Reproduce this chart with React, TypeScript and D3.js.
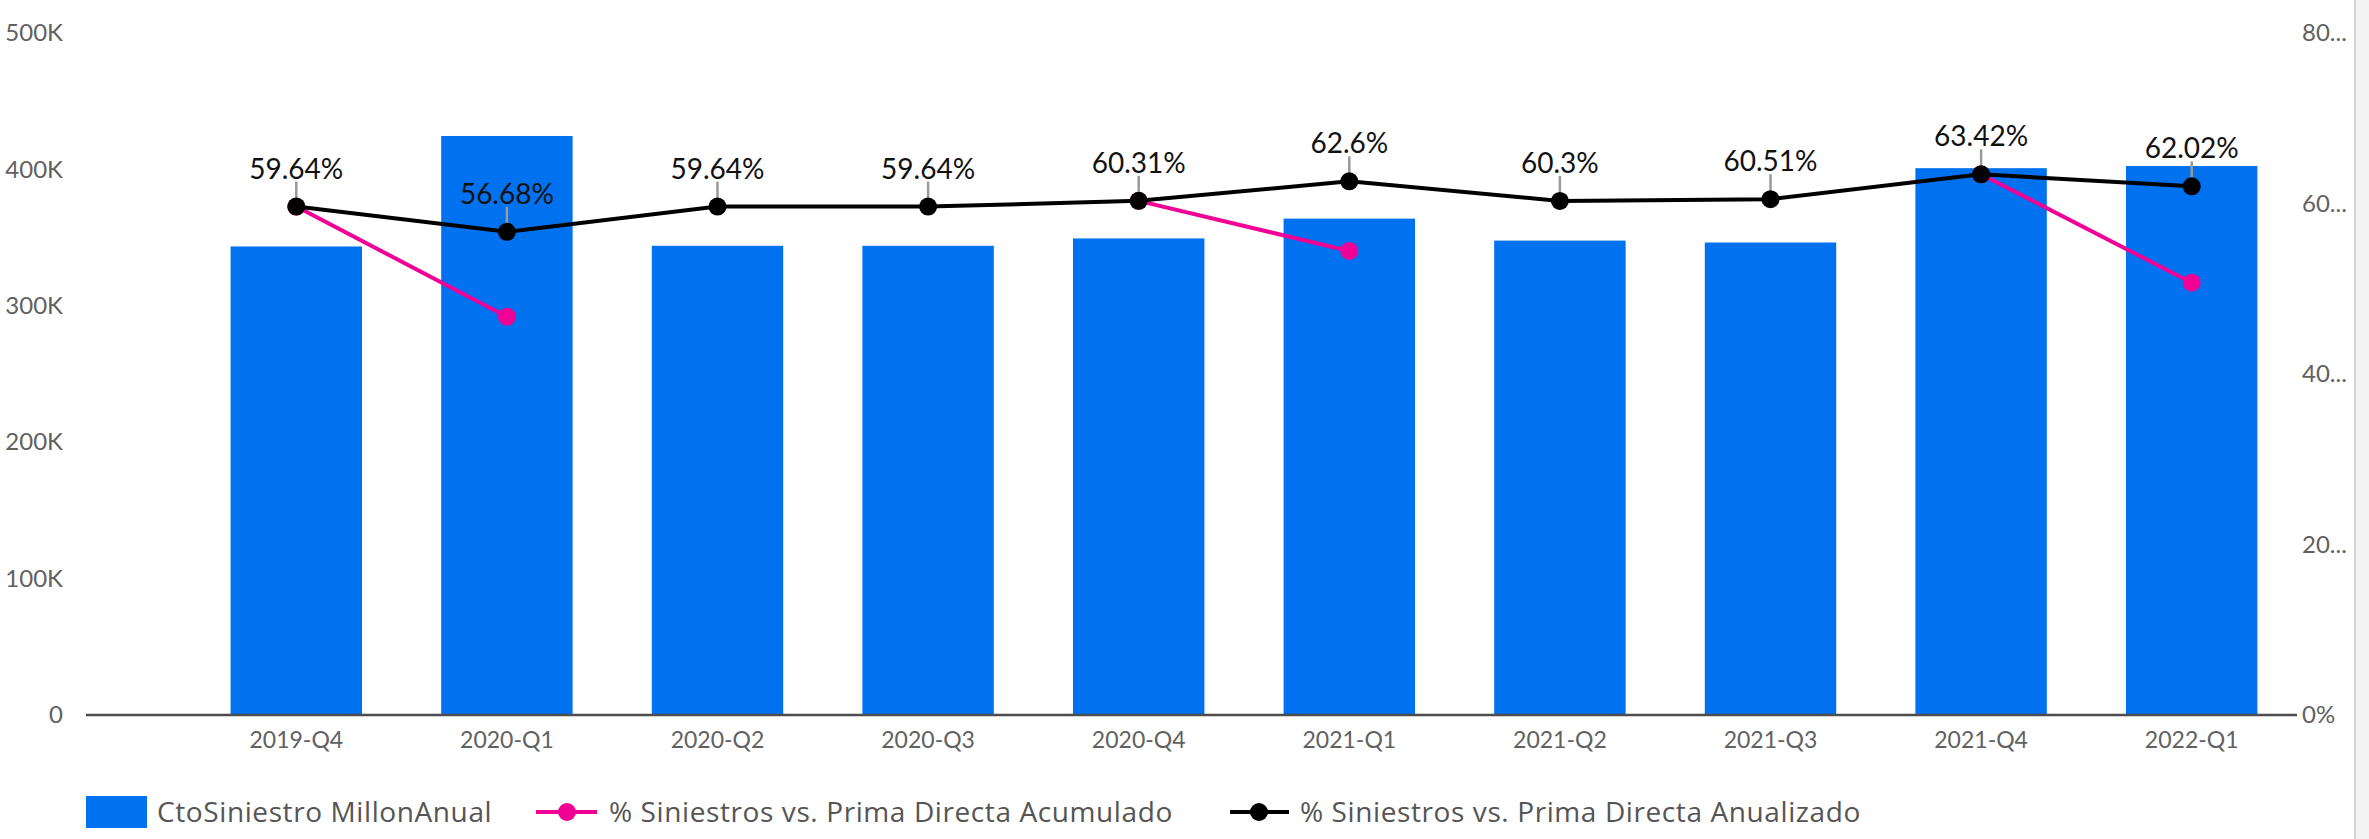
import { useEffect } from "react";
import * as d3 from "d3";

const categories = [
  "2019-Q4",
  "2020-Q1",
  "2020-Q2",
  "2020-Q3",
  "2020-Q4",
  "2021-Q1",
  "2021-Q2",
  "2021-Q3",
  "2021-Q4",
  "2022-Q1",
];
// CtoSiniestro MillonAnual (left axis)
const ctoSiniestro = [343500, 424500, 344000, 344000, 349400, 363900, 347800, 346400, 400900, 402500];
// % Siniestros vs. Prima Directa Acumulado (right axis), null = no point
const acumulado: (number | null)[] = [59.64, 46.72, null, null, 60.31, 54.43, null, null, 63.42, 50.71];
// % Siniestros vs. Prima Directa Anualizado (right axis)
const anualizado = [59.64, 56.68, 59.64, 59.64, 60.31, 62.6, 60.3, 60.51, 63.42, 62.02];

const leftTicks = [0, 100000, 200000, 300000, 400000, 500000];
const leftTickLabels = ["0", "100K", "200K", "300K", "400K", "500K"];
const rightTicks = [0, 20, 40, 60, 80];
const rightTickLabels = ["0%", "20...", "40...", "60...", "80..."];

const legendNames = [
  "CtoSiniestro MillonAnual",
  "% Siniestros vs. Prima Directa Acumulado",
  "% Siniestros vs. Prima Directa Anualizado",
];

const BLUE = "#0072f0";
const PINK = "#f10096";
const FONT = "Lato, 'Noto Sans', sans-serif";
const LEGEND_FONT = "'Open Sans', Lato, sans-serif";

const ComboChart = () => {
  const width = 2369;
  const height = 839;
  const left = 86;
  const right = 2297;
  const top = 33;
  const bottom = 715;

  useEffect(() => {
    document.body.style.margin = "0";
    d3.select("#comboChartContainer").selectAll("*").remove();

    const svg = d3
      .select("#comboChartContainer")
      .append("svg")
      .attr("width", width)
      .attr("height", height)
      .style("display", "block")
      .style("font-family", FONT);

    svg.append("rect").attr("width", width).attr("height", height).attr("fill", "#fff");

    // card edge on the right
    svg.append("rect").attr("x", 2355).attr("y", 0).attr("width", 14).attr("height", height).attr("fill", "#f3f3f3");
    svg
      .append("line")
      .attr("x1", 2355)
      .attr("x2", 2355)
      .attr("y1", 0)
      .attr("y2", height)
      .attr("stroke", "#d4d4d4")
      .attr("stroke-width", 2);

    const xScale = d3
      .scaleBand()
      .domain(categories)
      .range([left + 105, right])
      .paddingInner(0.376)
      .paddingOuter(0.188);

    const yLeft = d3.scaleLinear().domain([0, 500000]).range([bottom, top]);
    const yRight = d3.scaleLinear().domain([0, 80]).range([bottom, top]);

    const cx = (i: number) => (xScale(categories[i]) as number) + xScale.bandwidth() / 2;

    // left axis
    const leftAxis = svg
      .append("g")
      .attr("transform", `translate(${left},0)`)
      .call(
        d3
          .axisLeft(yLeft)
          .tickValues(leftTicks)
          .tickFormat((d, i) => leftTickLabels[i])
          .tickSize(0)
          .tickPadding(23)
      );
    leftAxis.select(".domain").remove();
    leftAxis.selectAll("text").attr("fill", "#616161").style("font-size", "24px").style("font-family", FONT);

    // right axis
    const rightAxis = svg
      .append("g")
      .attr("transform", `translate(${right},0)`)
      .call(
        d3
          .axisRight(yRight)
          .tickValues(rightTicks)
          .tickFormat((d, i) => rightTickLabels[i])
          .tickSize(0)
          .tickPadding(5)
      );
    rightAxis.select(".domain").remove();
    rightAxis.selectAll("text").attr("fill", "#616161").style("font-size", "24px").style("font-family", FONT);

    // bars
    svg
      .append("g")
      .selectAll("rect")
      .data(ctoSiniestro)
      .join("rect")
      .attr("x", (d, i) => xScale(categories[i]) as number)
      .attr("y", (d) => yLeft(d))
      .attr("width", xScale.bandwidth())
      .attr("height", (d) => bottom - yLeft(d))
      .attr("fill", BLUE);

    // bottom axis
    const xAxis = svg
      .append("g")
      .attr("transform", `translate(0,${bottom})`)
      .call(d3.axisBottom(xScale).tickSize(0).tickPadding(17));
    xAxis.select(".domain").remove();
    xAxis.selectAll("text").attr("fill", "#616161").style("font-size", "23px").style("font-family", FONT);

    svg
      .append("line")
      .attr("x1", left)
      .attr("x2", right)
      .attr("y1", bottom)
      .attr("y2", bottom)
      .attr("stroke", "#4d4d4d")
      .attr("stroke-width", 2.5);

    // acumulado line (with gaps)
    const lineAcum = d3
      .line<number | null>()
      .defined((d) => d !== null)
      .x((d, i) => cx(i))
      .y((d) => yRight(d as number));

    svg
      .append("path")
      .datum(acumulado)
      .attr("fill", "none")
      .attr("stroke", PINK)
      .attr("stroke-width", 4)
      .attr("d", lineAcum);

    svg
      .append("g")
      .selectAll("circle")
      .data(acumulado.map((v, i) => ({ v, i })).filter((d) => d.v !== null))
      .join("circle")
      .attr("cx", (d) => cx(d.i))
      .attr("cy", (d) => yRight(d.v as number))
      .attr("r", 9)
      .attr("fill", PINK);

    // anualizado line
    const lineAnual = d3
      .line<number>()
      .x((d, i) => cx(i))
      .y((d) => yRight(d));

    svg
      .append("path")
      .datum(anualizado)
      .attr("fill", "none")
      .attr("stroke", "#000")
      .attr("stroke-width", 4)
      .attr("d", lineAnual);

    const pts = svg.append("g").selectAll("g").data(anualizado).join("g");

    pts
      .append("line")
      .attr("x1", (d, i) => cx(i))
      .attr("x2", (d, i) => cx(i))
      .attr("y1", (d) => yRight(d) - 25)
      .attr("y2", (d) => yRight(d) - 8)
      .attr("stroke", "#9a9a9a")
      .attr("stroke-width", 2.5);

    pts
      .append("circle")
      .attr("cx", (d, i) => cx(i))
      .attr("cy", (d) => yRight(d))
      .attr("r", 9)
      .attr("fill", "#000");

    pts
      .append("text")
      .attr("x", (d, i) => cx(i))
      .attr("y", (d) => yRight(d) - 28)
      .attr("text-anchor", "middle")
      .attr("fill", "#111")
      .style("font-size", "28px")
      .text((d) => `${d}%`);

    // legend
    const ly = 812;
    const legend = svg
      .append("g")
      .style("font-size", "28px")
      .style("letter-spacing", "0.6px")
      .style("font-family", LEGEND_FONT)
      .attr("fill", "#555");

    legend.append("rect").attr("x", 86).attr("y", ly - 16).attr("width", 61).attr("height", 32).attr("fill", BLUE);
    legend.append("text").attr("x", 157).attr("y", ly).attr("dy", "0.35em").text(legendNames[0]);

    legend.append("line").attr("x1", 536).attr("x2", 597).attr("y1", ly).attr("y2", ly).attr("stroke", PINK).attr("stroke-width", 4);
    legend.append("circle").attr("cx", 567).attr("cy", ly).attr("r", 9).attr("fill", PINK);
    legend.append("text").attr("x", 609).attr("y", ly).attr("dy", "0.35em").text(legendNames[1]);

    legend.append("line").attr("x1", 1230).attr("x2", 1289).attr("y1", ly).attr("y2", ly).attr("stroke", "#000").attr("stroke-width", 4);
    legend.append("circle").attr("cx", 1259).attr("cy", ly).attr("r", 9).attr("fill", "#000");
    legend.append("text").attr("x", 1300).attr("y", ly).attr("dy", "0.35em").text(legendNames[2]);
  });

  return <div id="comboChartContainer" />;
};

export default function App() {
  return <ComboChart />;
}
